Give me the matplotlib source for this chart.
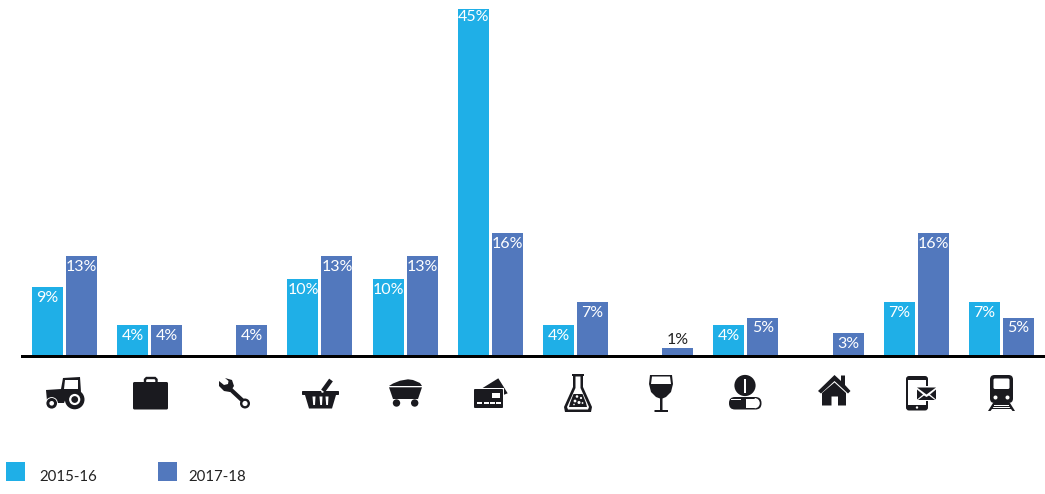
import numpy as np
import matplotlib
matplotlib.use('Agg')
import matplotlib.pyplot as plt
from matplotlib.patches import Circle, Polygon, Rectangle, FancyBboxPatch, Wedge

periods = ['2015-16', '2017-18']
share_1516 = [9, 4, np.nan, 10, 10, 45, 4, np.nan, 4, np.nan, 7, 7]
share_1718 = [13, 4, 4, 13, 13, 16, 7, 1, 5, 3, 16, 5]

BLUE = '#1fafe7'
STEEL = '#5278bd'
INK = '#1a1a1f'
W, H = 1045, 494

plt.rcParams['font.family'] = ['Lato', 'DejaVu Sans']

fig = plt.figure(figsize=(W / 100, H / 100), dpi=100, facecolor='white')

# --- bars ---
base_px = 356
px_per_pct = 7.7
group_px = 85.18
first_px = 64.4
ax = fig.add_axes([0, (H - base_px) / H, 1, base_px / H])
ax.set_xlim(-first_px / group_px, (W - first_px) / group_px)
ax.set_ylim(0, base_px / px_per_pct)
ax.axis('off')

x = np.arange(len(share_1718))
offset = 17 / group_px
bar_w = 31 / group_px
ax.bar(x - offset, share_1516, bar_w, color=BLUE)
ax.bar(x + offset, share_1718, bar_w, color=STEEL)

for xs, vals in ((x - offset, share_1516), (x + offset, share_1718)):
    for xi, v in zip(xs, vals):
        if np.isnan(v):
            continue
        if v < 2:
            ax.annotate(f'{v}%', (xi, v), xytext=(0, 8), textcoords='offset pixels',
                        ha='center', va='center', fontsize=11.5, color='#222222')
        else:
            drop = -8 if v > 40 else -11
            ax.annotate(f'{v}%', (xi, v), xytext=(0, drop), textcoords='offset pixels',
                        ha='center', va='center', fontsize=11.5, color='white')

# --- pixel overlay for axis line, icons and legend ---
px = fig.add_axes([0, 0, 1, 1])
px.set_xlim(0, W)
px.set_ylim(H, 0)
px.axis('off')
px.patch.set_alpha(0)

px.add_patch(Rectangle((21, 355), W - 21, 2.6, color='black', lw=0))


def poly(pts, color=INK):
    px.add_patch(Polygon(pts, closed=True, color=color, lw=0))


def circ(cx, cy, r, color=INK):
    px.add_patch(Circle((cx, cy), r, color=color, lw=0))


def box(x0, y0, x1, y1, color=INK, round_px=0.0):
    if round_px:
        px.add_patch(FancyBboxPatch((x0 + round_px, y0 + round_px), x1 - x0 - 2 * round_px,
                                    y1 - y0 - 2 * round_px,
                                    boxstyle=f'round,pad={round_px}', color=color, lw=0))
    else:
        px.add_patch(Rectangle((x0, y0), x1 - x0, y1 - y0, color=color, lw=0))


def stroke(xs, ys, width, color=INK):
    px.plot(xs, ys, color=color, lw=width * 0.72, solid_capstyle='butt', solid_joinstyle='miter')


# tractor
poly([(46, 390), (61, 389), (63, 378), (80, 377), (81, 392), (72, 391), (66, 398), (64, 403),
      (57, 403), (54, 399), (47, 401)])
poly([(65, 380), (78, 380), (78, 389), (63.5, 389)], 'white')
circ(74.7, 399.5, 9.8)
circ(74.7, 399.5, 5.6, 'white')
circ(74.7, 399.5, 3.4)
circ(51.7, 403.3, 6.2, 'white')
circ(51.7, 403.3, 5.3)
circ(51.7, 403.3, 2.3, 'white')

# briefcase
box(133, 382, 168, 409.5, round_px=1.5)
stroke([145, 145, 146.5, 155, 156.5, 156.5], [383, 379.5, 378, 378, 379.5, 383], 2.4)

# wrench
stroke([228, 243], [387, 401], 4.2)
circ(245, 403.5, 5)
circ(245, 403.5, 2.6, 'white')
poly([(225, 378), (232, 380), (234, 386), (230, 392), (224, 391), (219, 386), (219, 381),
      (224, 385), (228, 384), (228.5, 381)])

# basket
stroke([323, 331], [391, 380], 4.6)
box(302, 391, 339, 395, round_px=0.8)
poly([(305, 395), (336, 395), (332, 408.5), (309, 408.5)])
for sx in (314, 321, 327):
    poly([(sx - 1.5, 396.5), (sx + 1.5, 396.5), (sx + 1, 405), (sx - 0.8, 405)], 'white')
circ(322.5, 391.5, 1.3, 'white')

# coal cart
poly([(389, 386), (393, 383.5), (400, 380.7), (408, 379.3), (413, 380), (417, 381.7), (420, 383),
      (422, 386)])
poly([(389, 387.3), (422, 387.3), (418, 399), (393, 399)])
circ(396.5, 403, 3.7)
circ(414.7, 403, 3.7)

# credit cards
poly([(481, 389), (498.3, 378.3), (507.7, 393.3), (503.3, 395)])
box(473, 388, 504.3, 409, 'white')
box(474, 389, 503, 408, round_px=1)
box(491.5, 393, 500, 398, 'white')
for sx in (477, 483.5, 490, 496):
    box(sx, 401.5, sx + 5, 403.5, 'white')

# flask
poly([(572, 374), (584, 374), (584, 376), (583, 376), (583, 387), (592, 407), (591, 412), (565, 412),
      (564, 407), (573, 387), (573, 376), (572, 376)])
poly([(575.5, 376.5), (580.5, 376.5), (580.5, 388), (589, 407), (588, 409.5), (568, 409.5),
      (567, 407), (575.5, 388)], 'white')
poly([(573.5, 394), (582.5, 394), (586, 403), (587, 407), (569, 407), (570, 403)])
for cx, cy, r in [(577, 396.5, 1.3), (581, 398, 1.1), (575, 401, 1.4), (579, 402.5, 1.5),
                  (582.5, 403, 0.9), (574, 404.5, 0.8)]:
    circ(cx, cy, r, 'white')

# wine glass
poly([(650, 375), (672, 375), (673, 384), (671, 392), (666, 397), (662.5, 398.5), (662.5, 410),
      (668, 410), (668, 412), (654.5, 412), (654.5, 410), (660, 410), (660, 398.5), (656, 397),
      (651, 392), (649, 384)])
poly([(652, 376.5), (670, 376.5), (671, 384), (651, 384)], 'white')

# pill with exclamation mark
circ(745, 385.5, 10.6)
box(743.7, 378.5, 746.3, 393, 'white')
box(729, 397, 761.5, 409.5, round_px=6)
box(746, 398.5, 755.5, 408, 'white', round_px=0)
px.add_patch(Wedge((754.7, 403.2), 5.1, -90, 90, color='white', lw=0))
box(731, 398.6, 741, 399.6, 'white')

# house
poly([(818, 391), (834.5, 375), (841, 381), (841, 375.5), (845, 375.5), (845, 385), (850.5, 391),
      (848, 393.5), (834.5, 381), (821, 393.5)])
poly([(822, 393), (834.5, 382.5), (846, 393), (846, 405.5), (838, 405.5), (838, 396.5),
      (831.5, 396.5), (831.5, 405.5), (822, 405.5)])

# phone with envelope
box(906, 376, 928, 410.5, round_px=3)
box(908.3, 380, 925.7, 404.5, 'white')
box(914, 377.6, 920, 378.4, 'white')
circ(917, 407.5, 1.2, 'white')
box(915.5, 386, 937, 401, 'white')
poly([(917, 387.5), (936, 387.5), (926.5, 394.5)])
poly([(917, 399.5), (917, 389.5), (923, 394.5)])
poly([(936, 399.5), (936, 389.5), (930, 394.5)])
poly([(918, 400), (924, 395.5), (926.5, 397), (929, 395.5), (935, 400)])

# train
box(990, 375, 1013, 403, round_px=4.5)
box(993.5, 378.5, 1009.5, 389, 'white', round_px=1.5)
circ(995.5, 397.5, 2, 'white')
circ(1007.5, 397.5, 2, 'white')
poly([(993, 403), (1010, 403), (1015, 411), (1012.5, 411), (1009.5, 407), (993.5, 407), (990.5, 411),
      (988, 411)])
box(994, 404.8, 1009, 405.8, 'white')
box(992, 408, 1011, 409.2)

# --- legend ---
for lx, tx, col, label in ((6, 39, BLUE, periods[0]), (158, 188, STEEL, periods[1])):
    box(lx, 462, lx + 19, 481, col)
    px.text(tx, 476.5, label, ha='left', va='center', fontsize=10.8, color='#222222')

fig.savefig('out.png', dpi=100)
